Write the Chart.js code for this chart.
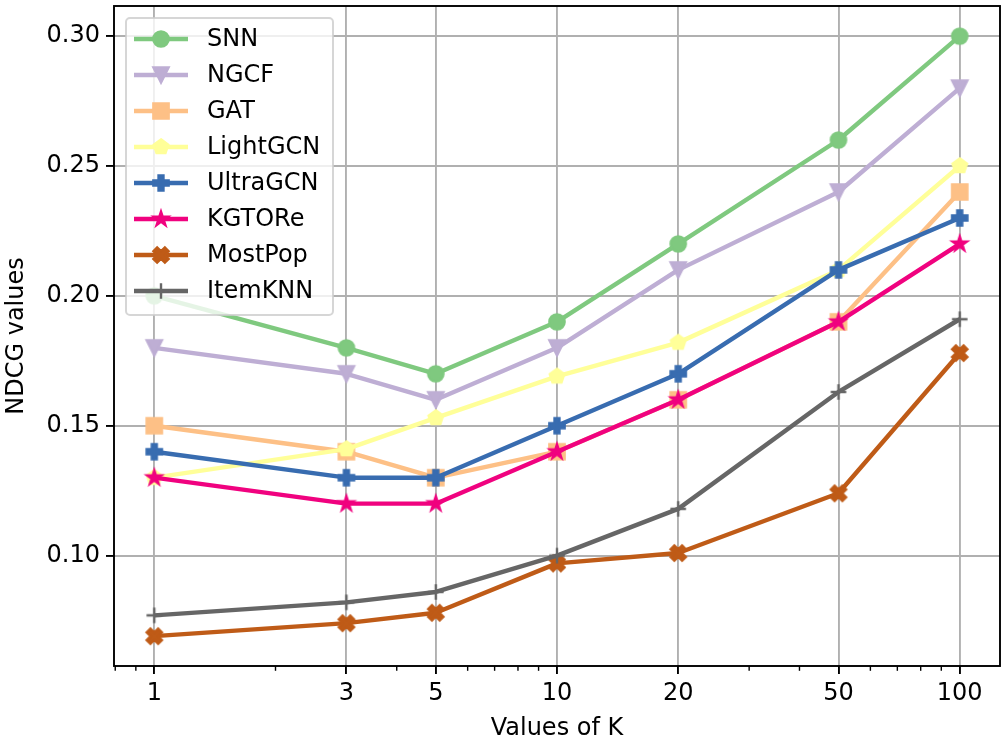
<!DOCTYPE html>
<html>
<head>
<meta charset="utf-8">
<script src="https://cdn.jsdelivr.net/npm/chart.js@4.4.1/dist/chart.umd.min.js"></script>
<style>
  html, body { margin: 0; padding: 0; background: #fff; }
</style>
</head>
<body>
<canvas id="myChart" width="1002" height="746"></canvas>
<script>
// data
const kValues = [1, 3, 5, 10, 20, 50, 100];
const yTicks = [0.10, 0.15, 0.20, 0.25, 0.30];
const minorK = [0.8, 0.9, 2, 4, 6, 7, 8, 9, 30, 40, 60, 70, 80, 90];

const snn      = [0.200, 0.180, 0.170, 0.190, 0.220, 0.260, 0.300];
const ngcf     = [0.180, 0.170, 0.160, 0.180, 0.210, 0.240, 0.280];
const gat      = [0.150, 0.140, 0.130, 0.140, 0.160, 0.190, 0.240];
const lightgcn = [0.130, 0.141, 0.153, 0.169, 0.182, 0.210, 0.250];
const ultragcn = [0.140, 0.130, 0.130, 0.150, 0.170, 0.210, 0.230];
const kgtore   = [0.130, 0.120, 0.120, 0.140, 0.160, 0.190, 0.220];
const mostpop  = [0.069, 0.074, 0.078, 0.097, 0.101, 0.124, 0.178];
const itemknn  = [0.077, 0.082, 0.086, 0.100, 0.118, 0.163, 0.191];

const seriesNames = ['SNN', 'NGCF', 'GAT', 'LightGCN', 'UltraGCN', 'KGTORe', 'MostPop', 'ItemKNN'];
const seriesData = [snn, ngcf, gat, lightgcn, ultragcn, kgtore, mostpop, itemknn];
const seriesColors = ['#7fc97f', '#beaed4', '#fdc086', '#ffff99', '#386cb0', '#f0027f', '#bf5b17', '#666666'];
const seriesMarkers = ['o', 'v', 's', 'p', 'P', '*', 'X', '+'];

const FONT = 'DejaVu Sans';
const FS = 24;
const MS = 15.5;   // marker size
const LW = 4.4;    // line width

// build a marker image like matplotlib's
function makeMarker(shape, color, size) {
  const dim = Math.ceil(size + 8);
  const c = document.createElement('canvas');
  c.width = dim; c.height = dim;
  const g = c.getContext('2d');
  g.translate(dim / 2, dim / 2);
  g.fillStyle = color;
  g.strokeStyle = color;
  g.lineWidth = 2.2;
  g.lineJoin = 'miter';
  const r = size / 2;
  g.beginPath();
  if (shape === 'o') {
    g.arc(0, 0, r, 0, Math.PI * 2);
  } else if (shape === 'v') {
    g.moveTo(0, r); g.lineTo(-r, -r); g.lineTo(r, -r); g.closePath();
  } else if (shape === 's') {
    g.rect(-r, -r, size, size);
  } else if (shape === 'p') {
    for (let i = 0; i < 5; i++) {
      const a = -Math.PI / 2 + i * 2 * Math.PI / 5;
      const px = r * Math.cos(a), py = r * Math.sin(a);
      i ? g.lineTo(px, py) : g.moveTo(px, py);
    }
    g.closePath();
  } else if (shape === 'P') {
    const pts = [[-1,-3],[1,-3],[1,-1],[3,-1],[3,1],[1,1],[1,3],[-1,3],[-1,1],[-3,1],[-3,-1],[-1,-1]];
    pts.forEach((p, i) => {
      const px = p[0] / 6 * size, py = p[1] / 6 * size;
      i ? g.lineTo(px, py) : g.moveTo(px, py);
    });
    g.closePath();
  } else if (shape === '*') {
    const ri = r * 0.381966;
    for (let i = 0; i < 10; i++) {
      const a = -Math.PI / 2 + i * Math.PI / 5;
      const rr = i % 2 ? ri : r;
      const px = rr * Math.cos(a), py = rr * Math.sin(a);
      i ? g.lineTo(px, py) : g.moveTo(px, py);
    }
    g.closePath();
  } else if (shape === 'X') {
    const pts = [[0.25,0],[0.5,0.25],[0.75,0],[1,0.25],[0.75,0.5],[1,0.75],[0.75,1],[0.5,0.75],[0.25,1],[0,0.75],[0.25,0.5],[0,0.25]];
    pts.forEach((p, i) => {
      const px = (p[0] - 0.5) * size, py = (p[1] - 0.5) * size;
      i ? g.lineTo(px, py) : g.moveTo(px, py);
    });
    g.closePath();
  } else if (shape === '+') {
    g.moveTo(-r, 0); g.lineTo(r, 0);
    g.moveTo(0, -r); g.lineTo(0, r);
    g.lineWidth = 2.4;
    g.stroke();
    return c;
  }
  g.fill();
  g.stroke();
  return c;
}

const markerImgs = seriesMarkers.map((m, i) => makeMarker(m, seriesColors[i], MS));

// frame + minor ticks
const framePlugin = {
  id: 'frame',
  afterDatasetsDraw(chart) {
    const { ctx, chartArea: a } = chart;
    const xs = chart.scales.x;
    ctx.save();
    ctx.strokeStyle = '#000';
    ctx.lineWidth = 1.4;
    minorK.forEach(v => {
      const px = xs.getPixelForValue(v);
      ctx.beginPath();
      ctx.moveTo(px, a.bottom);
      ctx.lineTo(px, a.bottom + 4.8);
      ctx.stroke();
    });
    ctx.lineWidth = 1.9;
    ctx.strokeRect(a.left, a.top, a.right - a.left, a.bottom - a.top);
    ctx.restore();
  }
};

// legend inside the axes, upper left
const legendPlugin = {
  id: 'insideLegend',
  afterDraw(chart) {
    const ctx = chart.ctx;
    ctx.save();
    const bx = 126, by = 18, bw = 207, bh = 297, rad = 4;
    ctx.beginPath();
    ctx.roundRect(bx, by, bw, bh, rad);
    ctx.fillStyle = 'rgba(255,255,255,0.8)';
    ctx.fill();
    ctx.strokeStyle = 'rgba(204,204,204,0.8)';
    ctx.lineWidth = 2;
    ctx.stroke();
    ctx.font = FS + 'px "' + FONT + '"';
    ctx.textBaseline = 'middle';
    ctx.textAlign = 'left';
    seriesNames.forEach((name, i) => {
      const y = 39 + 36 * i;
      ctx.strokeStyle = seriesColors[i];
      ctx.lineWidth = LW;
      ctx.beginPath();
      ctx.moveTo(134, y);
      ctx.lineTo(188, y);
      ctx.stroke();
      const img = markerImgs[i];
      ctx.drawImage(img, 161 - img.width / 2, y - img.height / 2);
      ctx.fillStyle = '#000';
      ctx.fillText(name, 207, y + 1);
    });
    ctx.restore();
  }
};

Chart.defaults.font.family = FONT;
Chart.defaults.font.size = FS;
Chart.defaults.color = '#000';

const ctx = document.getElementById('myChart').getContext('2d');
new Chart(ctx, {
  type: 'line',
  data: {
    datasets: seriesNames.map((name, i) => ({
      label: name,
      data: kValues.map((k, j) => ({ x: k, y: seriesData[i][j] })),
      borderColor: seriesColors[i],
      backgroundColor: seriesColors[i],
      borderWidth: LW,
      borderJoinStyle: 'round',
      pointStyle: markerImgs[i],
      // image markers ignore the radius; keep it small so no extra layout padding is added
      pointRadius: 1,
      pointHoverRadius: 1,
      pointBorderWidth: 0,
      pointHoverBorderWidth: 0,
      tension: 0,
      fill: false,
      order: -i
    }))
  },
  options: {
    responsive: false,
    animation: false,
    devicePixelRatio: 1,
    layout: { padding: { left: 0, right: 2, top: 6, bottom: 0 } },
    plugins: {
      legend: { display: false },
      tooltip: { enabled: false }
    },
    scales: {
      x: {
        type: 'logarithmic',
        min: Math.pow(10, -0.1),
        max: Math.pow(10, 2.1),
        afterBuildTicks: s => { s.ticks = kValues.map(v => ({ value: v })); },
        afterFit: s => { s.height = 80; s.paddingLeft = 0; s.paddingRight = 0; },
        ticks: {
          callback: v => String(v),
          autoSkip: false,
          maxRotation: 0,
          padding: 5,
          color: '#000',
          font: { size: FS }
        },
        grid: { color: '#b0b0b0', lineWidth: 1.9, tickColor: '#000', tickWidth: 1.9, tickLength: 8 },
        border: { display: false },
        title: { display: true, text: 'Values of K', color: '#000', font: { size: FS }, padding: { top: 0, bottom: 3 } }
      },
      y: {
        type: 'linear',
        min: 0.0575,
        max: 0.3116,
        afterBuildTicks: s => { s.ticks = yTicks.map(v => ({ value: v })); },
        afterFit: s => { s.width = 114; s.paddingTop = 0; s.paddingBottom = 0; },
        ticks: {
          callback: v => v.toFixed(2),
          padding: 6,
          color: '#000',
          font: { size: FS }
        },
        grid: { color: '#b0b0b0', lineWidth: 1.9, tickColor: '#000', tickWidth: 1.9, tickLength: 8 },
        border: { display: false },
        title: { display: true, text: 'NDCG values', color: '#000', font: { size: FS }, padding: { top: 2, bottom: 0 } }
      }
    }
  },
  plugins: [framePlugin, legendPlugin]
});
</script>
</body>
</html>
